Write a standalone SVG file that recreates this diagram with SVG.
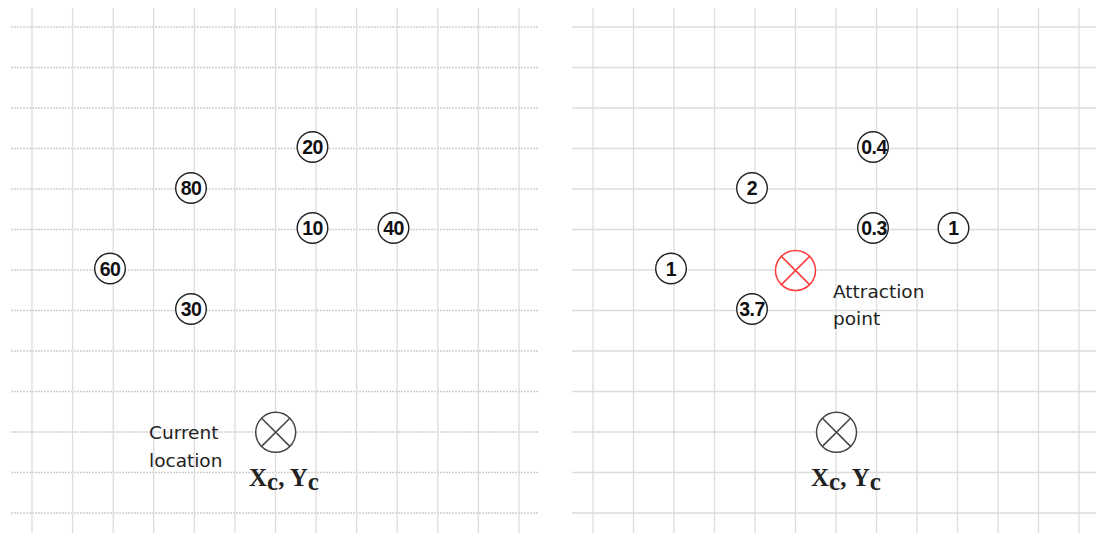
<svg xmlns="http://www.w3.org/2000/svg" width="1096" height="533" viewBox="0 0 1096 533">
<style>
.v{stroke:#dcdcdc;stroke-width:1.3}
.hl{stroke:#cfcfcf;stroke-width:1.3;stroke-dasharray:2 1}
.hr{stroke:#dcdcdc;stroke-width:1.3}
.n{fill:#fff;stroke:#222;stroke-width:1.4}
.nt{font-family:"Liberation Sans",Arial,sans-serif;font-weight:bold;font-size:19.5px;fill:#111;text-anchor:middle;letter-spacing:-0.5px}
.lbl{font-family:"DejaVu Sans",sans-serif;font-size:18.5px;fill:#222}
.xy{font-family:"Liberation Serif","Times New Roman",serif;font-weight:bold;font-size:25px;fill:#222}
.cur{fill:#fff;stroke:#444;stroke-width:1.5}
.att{fill:#fff;stroke:#ff3b3b;stroke-width:1.5}
</style>
<rect width="1096" height="533" fill="#fff"/>
<g id="grid-left">
<line class="hl" x1="11" y1="27" x2="539" y2="27"/>
<line class="hl" x1="11" y1="67.5" x2="539" y2="67.5"/>
<line class="hl" x1="11" y1="108" x2="539" y2="108"/>
<line class="hl" x1="11" y1="148.5" x2="539" y2="148.5"/>
<line class="hl" x1="11" y1="189" x2="539" y2="189"/>
<line class="hl" x1="11" y1="229.5" x2="539" y2="229.5"/>
<line class="hl" x1="11" y1="270" x2="539" y2="270"/>
<line class="hl" x1="11" y1="310.5" x2="539" y2="310.5"/>
<line class="hl" x1="11" y1="351" x2="539" y2="351"/>
<line class="hl" x1="11" y1="391.5" x2="539" y2="391.5"/>
<line class="hl" x1="11" y1="432" x2="539" y2="432"/>
<line class="hl" x1="11" y1="472.5" x2="539" y2="472.5"/>
<line class="hl" x1="11" y1="513" x2="539" y2="513"/>
<line class="v" x1="32" y1="8" x2="32" y2="533"/>
<line class="v" x1="72.6" y1="8" x2="72.6" y2="533"/>
<line class="v" x1="113.2" y1="8" x2="113.2" y2="533"/>
<line class="v" x1="153.7" y1="8" x2="153.7" y2="533"/>
<line class="v" x1="194.3" y1="8" x2="194.3" y2="533"/>
<line class="v" x1="234.9" y1="8" x2="234.9" y2="533"/>
<line class="v" x1="275.5" y1="8" x2="275.5" y2="533"/>
<line class="v" x1="316.1" y1="8" x2="316.1" y2="533"/>
<line class="v" x1="356.6" y1="8" x2="356.6" y2="533"/>
<line class="v" x1="397.2" y1="8" x2="397.2" y2="533"/>
<line class="v" x1="437.8" y1="8" x2="437.8" y2="533"/>
<line class="v" x1="478.4" y1="8" x2="478.4" y2="533"/>
<line class="v" x1="519" y1="8" x2="519" y2="533"/>
</g>
<g id="grid-right">
<line class="hr" x1="572" y1="27" x2="1096" y2="27"/>
<line class="hr" x1="572" y1="67.5" x2="1096" y2="67.5"/>
<line class="hr" x1="572" y1="108" x2="1096" y2="108"/>
<line class="hr" x1="572" y1="148.5" x2="1096" y2="148.5"/>
<line class="hr" x1="572" y1="189" x2="1096" y2="189"/>
<line class="hr" x1="572" y1="229.5" x2="1096" y2="229.5"/>
<line class="hr" x1="572" y1="270" x2="1096" y2="270"/>
<line class="hr" x1="572" y1="310.5" x2="1096" y2="310.5"/>
<line class="hr" x1="572" y1="351" x2="1096" y2="351"/>
<line class="hr" x1="572" y1="391.5" x2="1096" y2="391.5"/>
<line class="hr" x1="572" y1="432" x2="1096" y2="432"/>
<line class="hr" x1="572" y1="472.5" x2="1096" y2="472.5"/>
<line class="hr" x1="572" y1="513" x2="1096" y2="513"/>
<line class="v" x1="593" y1="8" x2="593" y2="533"/>
<line class="v" x1="633.5" y1="8" x2="633.5" y2="533"/>
<line class="v" x1="674" y1="8" x2="674" y2="533"/>
<line class="v" x1="714.5" y1="8" x2="714.5" y2="533"/>
<line class="v" x1="755" y1="8" x2="755" y2="533"/>
<line class="v" x1="795.5" y1="8" x2="795.5" y2="533"/>
<line class="v" x1="836" y1="8" x2="836" y2="533"/>
<line class="v" x1="876.5" y1="8" x2="876.5" y2="533"/>
<line class="v" x1="917" y1="8" x2="917" y2="533"/>
<line class="v" x1="957.5" y1="8" x2="957.5" y2="533"/>
<line class="v" x1="998" y1="8" x2="998" y2="533"/>
<line class="v" x1="1038.5" y1="8" x2="1038.5" y2="533"/>
<line class="v" x1="1079" y1="8" x2="1079" y2="533"/>
</g>
<g id="connectors"></g>
<g id="L20"><circle class="n" cx="312.5" cy="147" r="15.3"/><text class="nt" x="312.5" y="154">20</text></g>
<g id="L80"><circle class="n" cx="191" cy="188" r="15.3"/><text class="nt" x="191" y="195">80</text></g>
<g id="L10"><circle class="n" cx="312.5" cy="228" r="15.3"/><text class="nt" x="312.5" y="235">10</text></g>
<g id="L40"><circle class="n" cx="393.5" cy="228" r="15.3"/><text class="nt" x="393.5" y="235">40</text></g>
<g id="L60"><circle class="n" cx="110" cy="268.5" r="15.3"/><text class="nt" x="110" y="275.5">60</text></g>
<g id="L30"><circle class="n" cx="191" cy="309" r="15.3"/><text class="nt" x="191" y="316">30</text></g>
<g id="Lcurrent">
<circle class="cur" cx="275.7" cy="432.3" r="20"/>
<line stroke="#444" stroke-width="1.5" x1="261.6" y1="418.2" x2="289.8" y2="446.4"/>
<line stroke="#444" stroke-width="1.5" x1="289.8" y1="418.2" x2="261.6" y2="446.4"/>
<text class="lbl" x="149" y="439">Current</text>
<text class="lbl" x="149" y="466.5">location</text>
<text class="xy" x="249" y="486">X<tspan dy="4">c</tspan><tspan dy="-4">, Y</tspan><tspan dy="4">c</tspan></text>
</g>
<g id="R04"><circle class="n" cx="873" cy="147" r="15.3"/><text class="nt" x="874" y="154">0.4</text></g>
<g id="R2"><circle class="n" cx="752" cy="188" r="15.3"/><text class="nt" x="752" y="195">2</text></g>
<g id="R03"><circle class="n" cx="873" cy="228" r="15.3"/><text class="nt" x="874" y="235">0.3</text></g>
<g id="R1b"><circle class="n" cx="953.5" cy="228" r="15.3"/><text class="nt" x="953.5" y="235">1</text></g>
<g id="R1a"><circle class="n" cx="671" cy="268.5" r="15.3"/><text class="nt" x="671" y="275.5">1</text></g>
<g id="R37"><circle class="n" cx="752" cy="309" r="15.3"/><text class="nt" x="752" y="316">3.7</text></g>
<g id="Rattraction">
<circle class="att" cx="795.5" cy="270.5" r="20"/>
<line stroke="#ff3b3b" stroke-width="1.5" x1="781.4" y1="256.4" x2="809.6" y2="284.6"/>
<line stroke="#ff3b3b" stroke-width="1.5" x1="809.6" y1="256.4" x2="781.4" y2="284.6"/>
<text class="lbl" x="833" y="298">Attraction</text>
<text class="lbl" x="833" y="325">point</text>
</g>
<g id="Rcurrent">
<circle class="cur" cx="836.5" cy="432.3" r="20"/>
<line stroke="#444" stroke-width="1.5" x1="822.4" y1="418.2" x2="850.6" y2="446.4"/>
<line stroke="#444" stroke-width="1.5" x1="850.6" y1="418.2" x2="822.4" y2="446.4"/>
<text class="xy" x="811" y="486">X<tspan dy="4">c</tspan><tspan dy="-4">, Y</tspan><tspan dy="4">c</tspan></text>
</g>
</svg>
